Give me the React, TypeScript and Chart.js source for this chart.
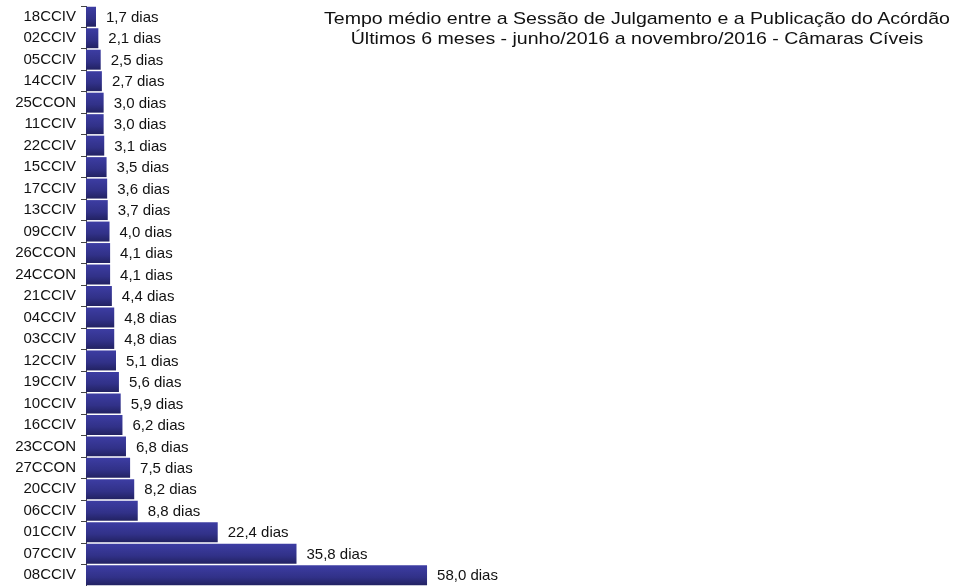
import React, { useEffect, useRef } from "react";
import { Chart, registerables } from "chart.js";

Chart.register(...registerables);

const categories = [
  "18CCIV", "02CCIV", "05CCIV", "14CCIV", "25CCON", "11CCIV", "22CCIV", "15CCIV", "17CCIV",
  "13CCIV", "09CCIV", "26CCON", "24CCON", "21CCIV", "04CCIV", "03CCIV", "12CCIV", "19CCIV",
  "10CCIV", "16CCIV", "23CCON", "27CCON", "20CCIV", "06CCIV", "01CCIV", "07CCIV", "08CCIV",
];

const values = [
  1.7, 2.1, 2.5, 2.7, 3.0, 3.0, 3.1, 3.5, 3.6,
  3.7, 4.0, 4.1, 4.1, 4.4, 4.8, 4.8, 5.1, 5.6,
  5.9, 6.2, 6.8, 7.5, 8.2, 8.8, 22.4, 35.8, 58.0,
];

const titleLines = [
  "Tempo médio entre a Sessão de Julgamento e a Publicação do Acórdão",
  "Últimos 6 meses - junho/2016 a novembro/2016 - Câmaras Cíveis",
];

const FONT = "'Liberation Sans', Arial, Helvetica, sans-serif";
const BAR_PCT = 0.93;

const fmt = (v: number) => v.toFixed(1).replace(".", ",") + " dias";

const valueLabelPlugin = {
  id: "valueLabels",
  afterDatasetsDraw(chart: any) {
    const ctx = chart.ctx;
    const meta = chart.getDatasetMeta(0);
    ctx.save();
    ctx.font = `15px ${FONT}`;
    ctx.fillStyle = "#111111";
    ctx.textAlign = "left";
    ctx.textBaseline = "middle";
    meta.data.forEach((bar: any, i: number) => {
      ctx.fillText(fmt(values[i]), bar.x + 10, bar.y + 1);
    });
    ctx.restore();
  },
};

export default function App() {
  const canvasRef = useRef<HTMLCanvasElement | null>(null);

  useEffect(() => {
    if (!canvasRef.current) return;
    const chart = new Chart(canvasRef.current, {
      type: "bar",
      data: {
        labels: categories,
        datasets: [
          {
            data: values,
            backgroundColor: (c: any) => {
              const ch = c.chart;
              const y = ch.scales && ch.scales.y;
              if (!y || c.type !== "data" || !y.height) return "#333399";
              const center = y.getPixelForValue(c.dataIndex);
              const h = (y.height / categories.length) * BAR_PCT;
              const g = ch.ctx.createLinearGradient(0, center - h / 2, 0, center + h / 2);
              g.addColorStop(0, "#3d3da3");
              g.addColorStop(0.6, "#313188");
              g.addColorStop(1, "#222262");
              return g;
            },
            borderWidth: 0,
            barPercentage: BAR_PCT,
            categoryPercentage: 1,
          },
        ],
      },
      options: {
        indexAxis: "y",
        animation: false,
        responsive: true,
        maintainAspectRatio: false,
        layout: { padding: { top: 6, right: 281, bottom: 0, left: 0 } },
        plugins: {
          legend: { display: false },
          title: { display: false },
          tooltip: { enabled: false },
        },
        scales: {
          x: {
            display: false,
            min: 0,
            max: 100,
          },
          y: {
            afterFit: (s: any) => {
              s.width = 86;
              s.paddingTop = 0;
              s.paddingBottom = 0;
            },
            grid: {
              display: true,
              drawOnChartArea: false,
              drawTicks: true,
              tickLength: 5,
              color: "#444444",
              offset: true,
            },
            border: { display: true, color: "#444444", width: 1 },
            ticks: {
              color: "#111111",
              padding: 5,
              autoSkip: false,
              font: { family: FONT, size: 15 },
            },
          },
        },
      },
      plugins: [valueLabelPlugin],
    } as any);
    return () => chart.destroy();
  }, []);

  return (
    <div
      style={{
        position: "fixed",
        left: 0,
        top: 0,
        width: 955,
        height: 586,
        overflow: "hidden",
        background: "#ffffff",
      }}
    >
      <canvas ref={canvasRef} />
      <div
        style={{
          position: "absolute",
          left: 337,
          width: 600,
          top: 9,
          textAlign: "center",
          fontFamily: FONT,
          fontSize: 17,
          lineHeight: "20px",
          color: "#111111",
          transform: "scaleX(1.15)",
          transformOrigin: "center top",
          whiteSpace: "nowrap",
          pointerEvents: "none",
        }}
      >
        {titleLines.map((t) => (
          <div key={t}>{t}</div>
        ))}
      </div>
    </div>
  );
}
